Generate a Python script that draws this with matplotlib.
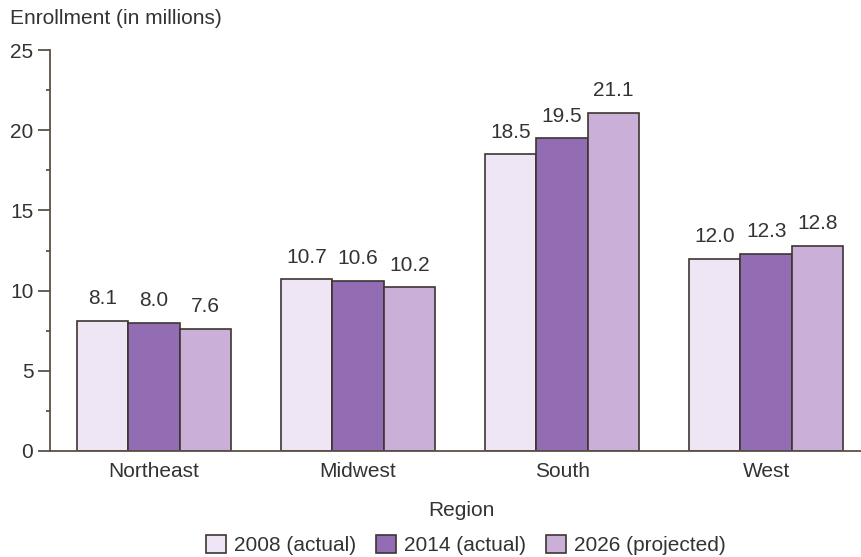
import matplotlib
matplotlib.use("Agg")
import matplotlib.pyplot as plt
import numpy as np
from matplotlib.patches import Patch
from matplotlib.ticker import MultipleLocator

plt.rcParams['font.family'] = ['Liberation Sans', 'DejaVu Sans']

regions = ["Northeast", "Midwest", "South", "West"]
series_names = ["2008 (actual)", "2014 (actual)", "2026 (projected)"]
v2008 = [8.1, 10.7, 18.5, 12.0]
v2014 = [8.0, 10.6, 19.5, 12.3]
v2026 = [7.6, 10.2, 21.1, 12.8]
values = [v2008, v2014, v2026]
colors = ["#EEE6F4", "#936DB4", "#CAB0D8"]
edge = "#3E3530"
txt = "#333333"
spine_c = "#5A5048"

fig = plt.figure(figsize=(8.61, 5.57), dpi=100)
ax = fig.add_axes([50/861, 1-451/557, 1-50/861, (451-50)/557])

x = np.arange(len(regions))
w = 0.252
for i, (vals, c) in enumerate(zip(values, colors)):
    pos = x + (i-1)*w
    ax.bar(pos, vals, width=w, color=c, edgecolor=edge, linewidth=1.2, zorder=2)
    for p, v in zip(pos, vals):
        ax.annotate(f"{v:.1f}", (p, v), xytext=(0, 12), textcoords="offset points",
                    ha="center", va="baseline", fontsize=15, color=txt)

ax.set_xlim(-0.51, 3.465)
ax.set_ylim(0, 25)
ax.yaxis.set_major_locator(MultipleLocator(5))
ax.yaxis.set_minor_locator(MultipleLocator(2.5))
ax.set_xticks(x)
ax.set_xticklabels(regions)
for s in ["top", "right"]:
    ax.spines[s].set_visible(False)
for s in ["left", "bottom"]:
    ax.spines[s].set_color(spine_c)
    ax.spines[s].set_linewidth(1.3)
ax.tick_params(axis="y", which="major", length=9, width=1.3, color=spine_c,
               labelsize=15, labelcolor=txt, pad=3)
ax.tick_params(axis="y", which="minor", length=3, width=1.3, color=spine_c)
ax.tick_params(axis="x", length=0, labelsize=15, labelcolor=txt, pad=8)

fig.text(10/861, 1-18/557, "Enrollment (in millions)", fontsize=15, color=txt,
         ha="left", va="center")
fig.text(461/861, 1-510/557, "Region", fontsize=15, color=txt, ha="center", va="center")

handles = [Patch(facecolor=c, edgecolor=edge, linewidth=1.2) for c in colors]
fig.legend(handles, series_names, loc="center", bbox_to_anchor=(466/861, 1-545/557),
           ncol=3, frameon=False, fontsize=15, handlelength=0.95, handleheight=1.0,
           handletextpad=0.4, columnspacing=0.95, labelcolor=txt)

fig.savefig("out.png", dpi=100)
